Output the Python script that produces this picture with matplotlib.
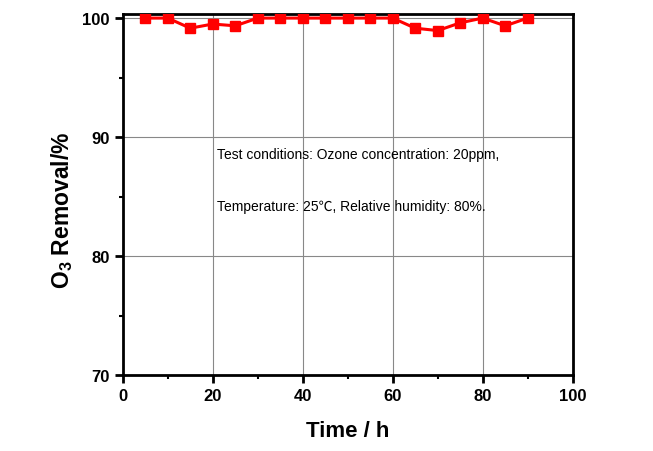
import matplotlib.pyplot as plt
from matplotlib.ticker import MultipleLocator

time_h = [5, 10, 15, 20, 25, 30, 35, 40, 45, 50, 55, 60, 65, 70, 75, 80, 85, 90]
removal = [100, 100, 99.15, 99.5, 99.35, 100, 100, 100, 100, 100, 100, 100,
           99.15, 98.95, 99.6, 100, 99.35, 100]

plt.rcParams['font.family'] = ['Liberation Sans', 'DejaVu Sans']
plt.rcParams['mathtext.fontset'] = 'custom'
plt.rcParams['mathtext.rm'] = 'Liberation Sans:bold'
plt.rcParams['mathtext.bf'] = 'Liberation Sans:bold'

fig = plt.figure(figsize=(6.53, 4.52), dpi=100)
ax = fig.add_axes([0.188, 0.168, 0.689, 0.799])

ax.plot(time_h, removal, color='#ff0000', lw=2.2, marker='s', ms=7,
        mec='#ff0000', mfc='#ff0000', zorder=3)

ax.set_xlim(0, 100)
ax.set_ylim(70, 100.35)
ax.xaxis.set_major_locator(MultipleLocator(20))
ax.xaxis.set_minor_locator(MultipleLocator(10))
ax.yaxis.set_major_locator(MultipleLocator(10))
ax.yaxis.set_minor_locator(MultipleLocator(5))
ax.grid(True, which='major', color='#888888', lw=0.8)
ax.set_axisbelow(True)

for s in ax.spines.values():
    s.set_linewidth(2)
ax.tick_params(which='major', direction='out', length=6, width=2, labelsize=12)
ax.tick_params(which='minor', direction='out', length=3, width=1.5)
for lab in ax.get_xticklabels() + ax.get_yticklabels():
    lab.set_fontweight('bold')

ax.set_xlabel('Time / h', fontsize=16, fontweight='bold', labelpad=12)
ax.set_ylabel('O$_{\\mathregular{3}}$ Removal/%', fontsize=16.5, fontweight='bold')
ax.yaxis.set_label_coords(-0.106, 0.46)

ax.text(21, 88.2, 'Test conditions: Ozone concentration: 20ppm,', fontsize=10)
ax.text(21, 83.9, 'Temperature: 25\u2103, Relative humidity: 80%.', fontsize=10,
        family=['Liberation Sans', 'Noto Sans CJK SC', 'DejaVu Sans'])

fig.savefig('out.png', dpi=100)
